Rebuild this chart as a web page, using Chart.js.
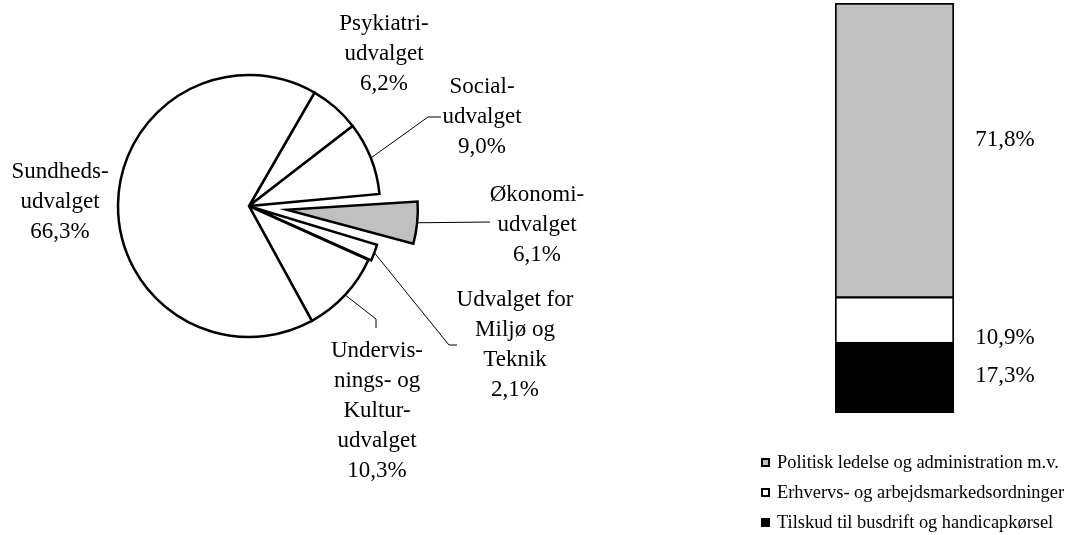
<!DOCTYPE html>
<html>
<head>
<meta charset="utf-8">
<script src="https://cdn.jsdelivr.net/npm/chart.js@4/dist/chart.umd.min.js"></script>
<style>
  body { margin: 0; background: #fff; width: 1066px; height: 535px; position: relative; overflow: hidden;
         font-family: 'Liberation Serif', 'Times New Roman', serif; }
  #pieChart { position: absolute; left: 0; top: 0; }
  #barChart { position: absolute; left: 620px; top: 0; }
  #legend { position: absolute; left: 761px; top: 447px; font-size: 18.4px; line-height: 30px; color: #000; }
  #legend .row { display: flex; align-items: center; white-space: nowrap; height: 30px; }
  #legend .box { width: 5px; height: 5px; border: 2px solid #000; margin-right: 7px; }
</style>
</head>
<body>
<canvas id="pieChart" width="620" height="535"></canvas>
<canvas id="barChart" width="446" height="535"></canvas>
<div id="legend"></div>
<script>
// pie: udvalg, clockwise from Psykiatri
const pieCategories = [
  ['Psykiatri-', 'udvalget'],
  ['Social-', 'udvalget'],
  ['Økonomi-', 'udvalget'],
  ['Udvalget for', 'Miljø og', 'Teknik'],
  ['Undervis-', 'nings- og', 'Kultur-', 'udvalget'],
  ['Sundheds-', 'udvalget']
];
const pieValues = [6.2, 9.0, 6.1, 2.1, 10.3, 66.3];
const pieColors = ['#ffffff', '#ffffff', '#c0c0c0', '#ffffff', '#ffffff', '#ffffff'];

// stacked bar, bottom to top
const barCategories = [
  'Tilskud til busdrift og handicapkørsel',
  'Erhvervs- og arbejdsmarkedsordninger',
  'Politisk ledelse og administration m.v.'
];
const barValues = [17.3, 10.9, 71.8];
const barColors = ['#000000', '#ffffff', '#c0c0c0'];

const FONT = '"Liberation Serif", "Times New Roman", serif';
const LINE = 30;
Chart.defaults.font.family = FONT;
Chart.defaults.color = '#000';

function pct(v) {
  return v.toFixed(1).replace('.', ',') + '%';
}

// chart.js grows the radius of an exploded arc, keep it at the pie radius
function arcFix(arc) {
  return 1 - Math.sin(Math.min(Math.PI, arc.endAngle - arc.startAngle));
}

const explodeFix = {
  id: 'explodeFix',
  afterUpdate(chart) {
    chart.getDatasetMeta(0).data.forEach(arc => {
      const off = (arc.options.offset || 0) / 4;
      arc.outerRadius -= off * arcFix(arc);
    });
  }
};

// label placement relative to pie centre (text block centre + leader line bends)
const pieLabelLayout = [
  { dx: 135, dy: -152 },
  { dx: 233, dy: -89, leader: [[179, -89], [192, -89]] },
  { dx: 288, dy: 19, leader: [[241, 16]] },
  { dx: 266, dy: 139, leader: [[200, 139], [208, 139]] },
  { dx: 128, dy: 205, leader: [[127, 113], [127, 122]] },
  { dx: -189, dy: -4 }
];

const pieLabelPlugin = {
  id: 'pieLabels',
  afterDatasetsDraw(chart) {
    const ctx = chart.ctx;
    const arcs = chart.getDatasetMeta(0).data;
    ctx.save();
    ctx.font = '23px ' + FONT;
    ctx.fillStyle = '#000';
    ctx.strokeStyle = '#000';
    ctx.lineWidth = 1;
    ctx.textAlign = 'center';
    ctx.textBaseline = 'middle';
    arcs.forEach((arc, i) => {
      const pos = pieLabelLayout[i];
      const cx = arc.x, cy = arc.y;
      const lines = pieCategories[i].concat(pct(pieValues[i]));
      const top = cy + pos.dy - (lines.length - 1) * LINE / 2;
      lines.forEach((t, k) => ctx.fillText(t, cx + pos.dx, top + k * LINE));
      if (pos.leader) {
        // start at the middle of the (possibly exploded) outer arc
        const mid = (arc.startAngle + arc.endAngle) / 2;
        const off = (arc.options.offset || 0) / 4;
        const r = arc.outerRadius + off * arcFix(arc) + off;
        ctx.beginPath();
        ctx.moveTo(cx + Math.cos(mid) * r, cy + Math.sin(mid) * r);
        pos.leader.forEach(p => ctx.lineTo(cx + p[0], cy + p[1]));
        ctx.stroke();
      }
    });
    ctx.restore();
  }
};

const barLabelShift = [-2, 18, -10];

const barLabelPlugin = {
  id: 'barLabels',
  afterDatasetsDraw(chart) {
    const ctx = chart.ctx;
    ctx.save();
    ctx.font = '23px ' + FONT;
    ctx.fillStyle = '#000';
    ctx.textAlign = 'center';
    ctx.textBaseline = 'middle';
    chart.data.datasets.forEach((ds, i) => {
      const bar = chart.getDatasetMeta(i).data[0];
      const x = bar.x + bar.width / 2 + 51;
      const y = (bar.y + bar.base) / 2 + barLabelShift[i];
      ctx.fillText(pct(ds.data[0]), x, y);
    });
    ctx.restore();
  }
};

new Chart(document.getElementById('pieChart'), {
  type: 'pie',
  data: {
    labels: pieCategories.map(l => l.join(' ')),
    datasets: [{
      data: pieValues,
      backgroundColor: pieColors,
      borderColor: '#000',
      borderWidth: 2.5,
      borderJoinStyle: 'miter',
      offset: [0, 0, 152, 11, 0, 0],
      hoverOffset: 0,
      clip: false
    }]
  },
  options: {
    responsive: false,
    animation: false,
    events: [],
    rotation: 30,
    radius: 131,
    layout: { padding: { left: 0, top: 0, right: 122, bottom: 123 } },
    plugins: { legend: { display: false }, tooltip: { enabled: false } }
  },
  plugins: [explodeFix, pieLabelPlugin]
});

const borders = [
  { top: 2, left: 2, right: 2, bottom: 2 },
  { top: 1.5, left: 2, right: 2, bottom: 0 },
  { top: 2, left: 2, right: 2, bottom: 1.5 }
];

new Chart(document.getElementById('barChart'), {
  type: 'bar',
  data: {
    labels: [''],
    datasets: barCategories.map((name, i) => ({
      label: name,
      data: [barValues[i]],
      backgroundColor: barColors[i],
      borderColor: '#000',
      borderWidth: borders[i],
      borderSkipped: false,
      barPercentage: 1,
      categoryPercentage: 1
    }))
  },
  options: {
    responsive: false,
    animation: false,
    events: [],
    layout: { padding: { left: 215, right: 112, top: 3, bottom: 122 } },
    scales: {
      x: { stacked: true, display: false },
      y: { stacked: true, display: false, min: 0, max: 100 }
    },
    plugins: { legend: { display: false }, tooltip: { enabled: false } }
  },
  plugins: [barLabelPlugin]
});

// legend, top to bottom as in the stack
const legend = document.getElementById('legend');
barCategories.slice().reverse().forEach((name, k) => {
  const i = barCategories.length - 1 - k;
  const row = document.createElement('div');
  row.className = 'row';
  const box = document.createElement('span');
  box.className = 'box';
  box.style.background = barColors[i];
  row.appendChild(box);
  row.appendChild(document.createTextNode(name));
  legend.appendChild(row);
});
</script>
</body>
</html>
